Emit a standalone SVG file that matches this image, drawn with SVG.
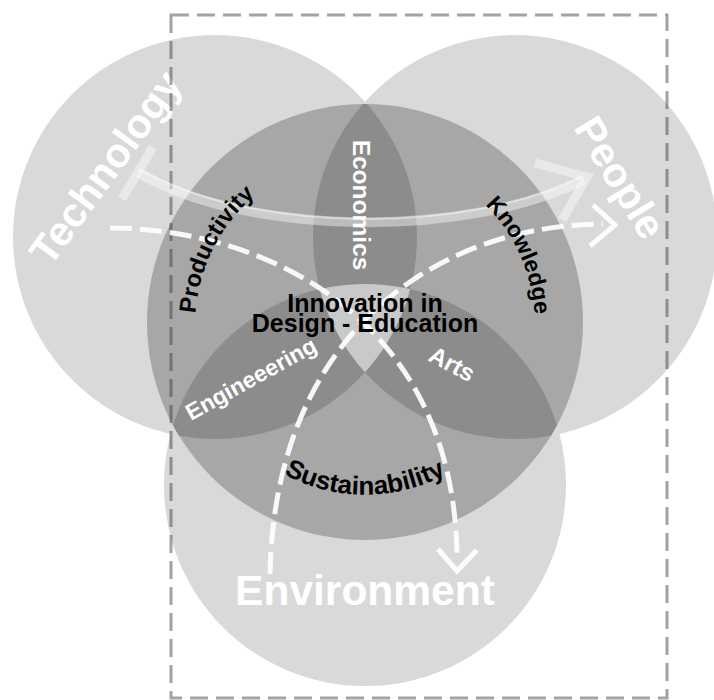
<svg xmlns="http://www.w3.org/2000/svg" xmlns:xlink="http://www.w3.org/1999/xlink" width="714" height="700" viewBox="0 0 714 700">
<style>
.outer{fill:#d9d9d9}
.lens{fill:#8c8c8c}
.big{font-family:"Liberation Sans",Arial,sans-serif;font-weight:bold;fill:#ffffff}
.wlab{font-family:"Liberation Sans",Arial,sans-serif;font-weight:bold;fill:#ffffff}
.blab{font-family:"Liberation Sans",Arial,sans-serif;font-weight:bold;fill:#000000}
.band{fill:none;stroke:#ffffff;stroke-opacity:0.42;stroke-width:9}
.bandhi{fill:none;stroke:#ffffff;stroke-opacity:0.45;stroke-width:2.5}
.dash{fill:none;stroke:#ffffff;stroke-opacity:0.92;stroke-width:5;stroke-dasharray:22 8}
.head{fill:none;stroke:#ffffff;stroke-opacity:0.92;stroke-width:5}
</style>
<defs>
<clipPath id="cT"><circle cx="215" cy="237" r="202"/></clipPath>
<clipPath id="cP"><circle cx="515" cy="237" r="202"/></clipPath>
<clipPath id="cE"><circle cx="365" cy="485" r="201"/></clipPath>
<clipPath id="cD"><circle cx="365" cy="322" r="218"/></clipPath>
<path id="arcProd" d="M197.6,354.5 A170,170 0 0 1 306.9,165.3"/>
<path id="arcKnow" d="M450,177.8 A170,170 0 0 1 532.4,354.5"/>
<path id="arcSust" d="M255.7,455.2 A171,171 0 0 0 474.3,455.2"/>
</defs>
<rect width="714" height="700" fill="#ffffff"/>

<g id="technology">
<circle class="outer" cx="215" cy="237" r="202"/>
<text class="big" font-size="41" text-anchor="middle" transform="translate(117,176) rotate(-54)">Technology</text>
</g>
<g id="people">
<circle class="outer" cx="515" cy="237" r="202"/>
<text class="big" font-size="41" text-anchor="middle" transform="translate(608,185) rotate(58.5)">People</text>
</g>
<g id="environment">
<circle class="outer" cx="365" cy="485" r="201"/>
<text class="big" font-size="42.5" text-anchor="middle" x="365" y="605">Environment</text>
</g>

<g id="core">
<circle cx="365" cy="322" r="218" fill="#a7a7a7"/>
</g>

<g id="economics">
<g clip-path="url(#cD)"><g clip-path="url(#cP)"><circle class="lens" cx="215" cy="237" r="202"/></g></g>
<text class="wlab" font-size="24.5" text-anchor="middle" transform="translate(353,205) rotate(90)">Economics</text>
</g>
<g id="engineering">
<g clip-path="url(#cD)"><g clip-path="url(#cE)"><circle class="lens" cx="215" cy="237" r="202"/></g></g>
<text class="wlab" font-size="23" transform="translate(191,421) rotate(-29)">Engineeering</text>
</g>
<g id="arts">
<g clip-path="url(#cD)"><g clip-path="url(#cE)"><circle class="lens" cx="515" cy="237" r="202"/></g></g>
<text class="wlab" font-size="24" transform="translate(427,360) rotate(28)">Arts</text>
</g>
<g id="innovation-area">
<g clip-path="url(#cT)"><g clip-path="url(#cP)"><circle cx="365" cy="485" r="201" fill="#c9c9c9"/></g></g>
</g>

<g id="frame">
<rect x="171" y="15" width="496" height="683" fill="none" stroke="#333333" stroke-opacity="0.45" stroke-width="3" stroke-dasharray="18 8"/>
</g>

<g id="connectors">
<g id="tech-to-people">
<line class="band" x1="153" y1="147" x2="122" y2="199"/>
<path class="band" d="M138,173 C250,238 470,238 584,180"/>
<path class="bandhi" d="M140,169 C250,234 470,234 582,176"/>
<polyline class="band" points="535,163 587,177 562,220"/>
</g>
<g id="tech-to-environment">
<path class="dash" d="M110,228 C260,228 455,315 457,558"/>
<polyline class="head" points="438,549 457,571 477,550"/>
</g>
<g id="environment-to-people">
<path class="dash" d="M270,574 C275,330 440,225 603,224"/>
<polyline class="head" points="593,205 615,225 590,246"/>
</g>
<text class="blab" font-size="23.5"><textPath xlink:href="#arcProd" startOffset="46%" text-anchor="middle">Productivity</textPath></text>
<text class="blab" font-size="23"><textPath xlink:href="#arcKnow" startOffset="51%" text-anchor="middle">Knowledge</textPath></text>
<text class="blab" font-size="26"><textPath xlink:href="#arcSust" startOffset="50%" text-anchor="middle">Sustainability</textPath></text>
</g>

<g id="innovation">
<text class="blab" font-size="25" text-anchor="middle"><tspan x="365" y="312">Innovation in</tspan><tspan x="365" y="332">Design - Education</tspan></text>
</g>
</svg>
